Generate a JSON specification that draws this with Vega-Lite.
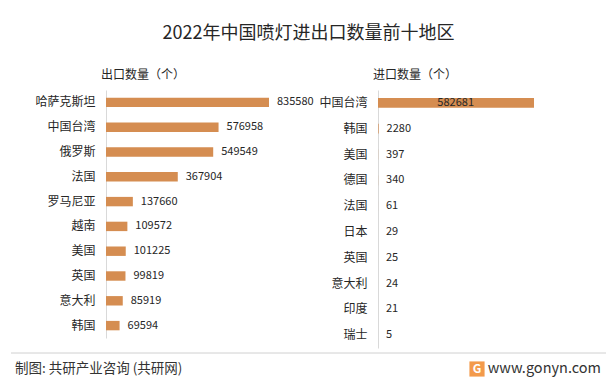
{
  "$schema": "https://vega.github.io/schema/vega-lite/v6.json",
  "padding": {"left": 10, "top": 25, "right": 5, "bottom": 0},
  "background": "#FFFFFF",
  "config": {
    "view": {"stroke": null},
    "font": "Noto Sans CJK SC",
    "text": {"font": "Noto Sans CJK SC", "color": "#262626"},
    "axis": {"labelFont": "Noto Sans CJK SC", "titleFont": "Noto Sans CJK SC"},
    "title": {"font": "Noto Sans CJK SC"}
  },
  "title": {
    "text": "2022年中国喷灯进出口数量前十地区",
    "fontSize": 18,
    "fontWeight": "normal",
    "color": "#262626",
    "anchor": "middle",
    "offset": 26
  },
  "datasets": {
    "export": [
      {"region": "哈萨克斯坦", "value": 835580},
      {"region": "中国台湾", "value": 576958},
      {"region": "俄罗斯", "value": 549549},
      {"region": "法国", "value": 367904},
      {"region": "罗马尼亚", "value": 137660},
      {"region": "越南", "value": 109572},
      {"region": "美国", "value": 101225},
      {"region": "英国", "value": 99819},
      {"region": "意大利", "value": 85919},
      {"region": "韩国", "value": 69594}
    ],
    "import": [
      {"region": "中国台湾", "value": 582681},
      {"region": "韩国", "value": 2280},
      {"region": "美国", "value": 397},
      {"region": "德国", "value": 340},
      {"region": "法国", "value": 61},
      {"region": "日本", "value": 29},
      {"region": "英国", "value": 25},
      {"region": "意大利", "value": 24},
      {"region": "印度", "value": 21},
      {"region": "瑞士", "value": 5}
    ],
    "footer": [
      {"pos": 0, "pos2": 1, "label": "", "side": "line"},
      {"pos": 0, "label": "制图: 共研产业咨询 (共研网)", "side": "left"},
      {"pos": 1, "label": "www.gonyn.com", "side": "right"},
      {"pos": 1, "label": "G", "side": "logo"}
    ]
  },
  "concat": [
    {
      "hconcat": [
        {
          "width": 212,
          "height": 248,
          "data": {"name": "export"},
          "title": {"text": "出口数量（个）", "anchor": "start", "frame": "group", "dx": -5, "fontSize": 12, "fontWeight": "normal", "color": "#262626", "offset": 8},
          "encoding": {
            "y": {
              "field": "region", "type": "nominal", "sort": null,
              "scale": {"paddingInner": 0.62, "paddingOuter": 0.31},
              "axis": {"title": null, "ticks": false, "labelPadding": 11, "domainColor": "#D9D9D9", "minExtent": 95, "maxExtent": 95, "labelFontSize": 12, "labelColor": "#262626"}
            },
            "x": {"field": "value", "type": "quantitative", "scale": {"domain": [0, 1086750], "nice": false}, "axis": null}
          },
          "layer": [
            {"mark": {"type": "bar", "color": "#D58D51"}},
            {"mark": {"type": "text", "align": "left", "dx": 8, "fontSize": 11, "color": "#262626"}, "encoding": {"text": {"field": "value", "type": "quantitative", "format": "d"}}}
          ]
        },
        {
          "width": 200,
          "height": 258,
          "data": {"name": "import"},
          "title": {"text": "进口数量（个）", "anchor": "start", "frame": "group", "dx": -5, "fontSize": 12, "fontWeight": "normal", "color": "#262626", "offset": 8},
          "encoding": {
            "y": {
              "field": "region", "type": "nominal", "sort": null,
              "scale": {"paddingInner": 0.62, "paddingOuter": 0.31},
              "axis": {"title": null, "ticks": false, "labelPadding": 11, "domainColor": "#D9D9D9", "minExtent": 60, "maxExtent": 60, "labelFontSize": 12, "labelColor": "#262626"}
            },
            "x": {"field": "value", "type": "quantitative", "scale": {"domain": [0, 747000], "nice": false}, "axis": null}
          },
          "layer": [
            {"mark": {"type": "bar", "color": "#D58D51"}},
            {"transform": [{"filter": "datum.value > 100000"}], "mark": {"type": "text", "align": "right", "dx": -60, "fontSize": 11, "color": "#262626"}, "encoding": {"text": {"field": "value", "type": "quantitative", "format": "d"}}},
            {"transform": [{"filter": "datum.value <= 100000"}], "mark": {"type": "text", "align": "left", "dx": 8, "fontSize": 11, "color": "#262626"}, "encoding": {"text": {"field": "value", "type": "quantitative", "format": "d"}}}
          ]
        }
      ],
      "spacing": 0
    },
    {
      "width": 500,
      "height": 32,
      "data": {"name": "footer"},
      "encoding": {
        "x": {"field": "pos", "type": "quantitative", "scale": {"domain": [0, 1], "nice": false, "range": [-95, 500]}, "axis": null}
      },
      "layer": [
        {"transform": [{"filter": "datum.side == 'line'"}], "mark": {"type": "rule", "color": "#D0D0D0", "strokeWidth": 1}, "encoding": {"x2": {"field": "pos2"}, "y": {"value": 0}}},
        {"transform": [{"filter": "datum.side == 'left'"}], "mark": {"type": "text", "align": "left", "dx": 4, "fontSize": 13.5, "color": "#333333"}, "encoding": {"text": {"field": "label"}}},
        {"transform": [{"filter": "datum.side == 'right'"}], "mark": {"type": "text", "align": "right", "dx": -5, "fontSize": 14.5, "color": "#333333"}, "encoding": {"text": {"field": "label"}}},
        {"transform": [{"filter": "datum.side == 'logo'"}], "mark": {"type": "square", "size": 230, "filled": true, "opacity": 1, "color": "#F39A4B", "xOffset": -129}},
        {"transform": [{"filter": "datum.side == 'logo'"}], "mark": {"type": "text", "align": "center", "dx": -129, "fontSize": 12, "fontWeight": "bold", "color": "#FFFFFF"}, "encoding": {"text": {"field": "label"}}}
      ]
    }
  ],
  "columns": 1,
  "spacing": 4
}
